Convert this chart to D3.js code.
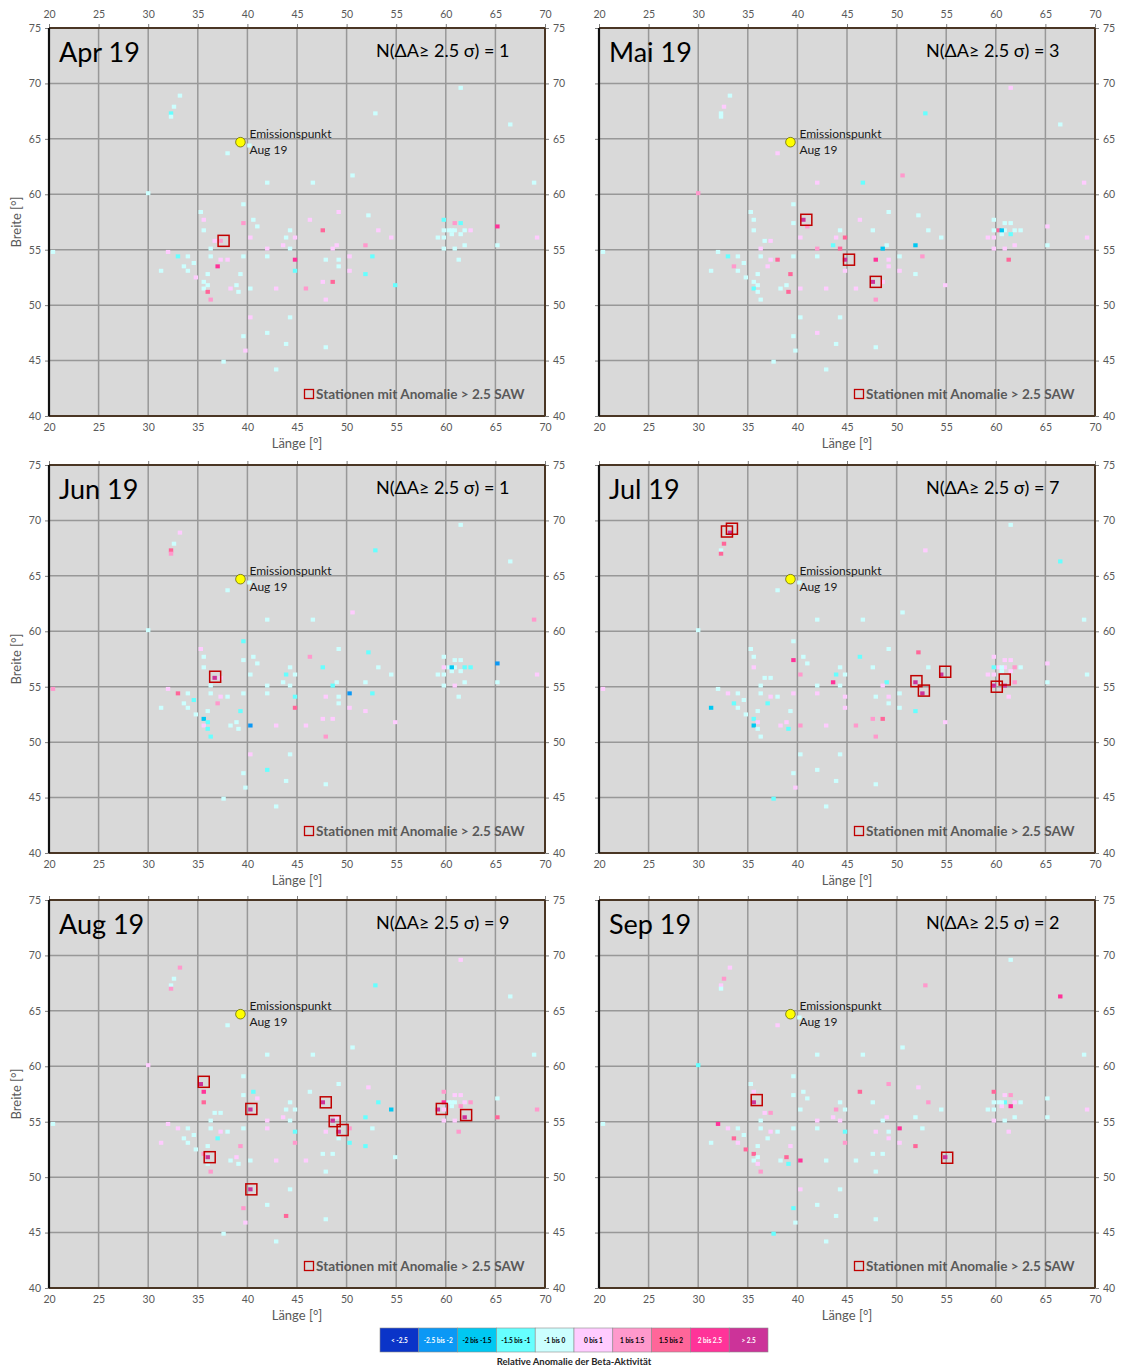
<!DOCTYPE html>
<html>
<head>
<meta charset="utf-8">
<script src="https://cdn.jsdelivr.net/npm/d3@7"></script>
<style>
  body { margin: 0; background: #fff; }
  svg text { font-family: Lato, "Open Sans", "Liberation Sans", sans-serif; }
</style>
</head>
<body>
<svg id="chart" width="1121" height="1369"></svg>
<script>
// ---- Data -------------------------------------------------------------
const months = ["Apr 19", "Mai 19", "Jun 19", "Jul 19", "Aug 19", "Sep 19"];

const lonTicks = [20, 25, 30, 35, 40, 45, 50, 55, 60, 65, 70];
const latTicks = [40, 45, 50, 55, 60, 65, 70, 75];

// Measuring stations (longitude / latitude in degrees)
const stationLon = [
  38.0, 40.2, 42.0, 46.6, 50.6, 68.9, 30.0, 39.6, 35.3, 49.2,
  52.2, 35.6, 40.6, 46.3, 39.6, 59.8, 60.9, 61.5, 65.2, 41.0,
  35.6, 44.3, 47.6, 53.2, 59.8, 60.3, 60.9, 61.9, 62.5, 61.5,
  60.6, 40.3, 43.9, 44.8, 54.5, 59.2, 59.8, 69.2, 36.7, 37.3,
  43.6, 42.0, 36.3, 44.3, 49.0, 48.6, 51.9, 59.8, 60.9, 61.9,
  65.2, 20.4, 32.0, 33.0, 34.0, 36.3, 37.3, 38.0, 39.6, 42.0,
  44.8, 47.9, 49.2, 50.3, 52.6, 61.3, 34.6, 33.6, 37.0, 31.3,
  34.0, 44.8, 49.2, 50.3, 36.0, 39.3, 51.9, 34.8, 35.6, 47.6,
  48.6, 36.0, 38.9, 54.9, 35.6, 38.3, 40.3, 42.9, 45.9, 36.0,
  39.1, 36.3, 47.9, 40.3, 44.3, 42.0, 39.6, 43.9, 39.8, 47.9,
  37.6, 42.9, 33.2, 32.6, 32.3, 32.3, 61.5, 52.9, 66.5, 60.6
];
const stationLat = [
  63.7, 64.4, 61.05, 61.05, 61.7, 61.05, 60.1, 59.1, 58.4, 58.4,
  58.1, 57.7, 57.7, 57.7, 57.4, 57.7, 57.4, 57.4, 57.1, 57.1,
  56.75, 56.75, 56.75, 56.75, 56.75, 56.75, 56.75, 56.75, 56.75, 56.4,
  56.4, 56.1, 56.1, 56.1, 56.1, 56.1, 56.1, 56.1, 55.8, 55.8,
  55.4, 55.1, 55.1, 55.1, 55.4, 55.1, 55.4, 55.1, 55.1, 55.4,
  55.4, 54.8, 54.8, 54.4, 54.4, 54.4, 54.1, 54.1, 54.4, 54.4,
  54.1, 54.1, 54.1, 54.4, 54.4, 54.1, 53.8, 53.5, 53.5, 53.1,
  53.1, 53.1, 53.5, 53.1, 52.8, 52.8, 52.8, 52.5, 52.1, 52.1,
  52.1, 51.8, 51.8, 51.8, 51.5, 51.5, 51.5, 51.5, 51.5, 51.2,
  51.2, 50.5, 50.5, 48.9, 48.9, 47.5, 47.2, 46.5, 45.9, 46.2,
  44.9, 44.2, 68.9, 67.9, 67.3, 67.0, 69.6, 67.3, 66.3, 56.75
];

// Anomaly class per station and month (index into classLabels, -1 = no value)
const classApr = [
  4,4,4,4,4,4,4,4,4,5, 4,5,4,5,6,3,6,3,8,4, 4,4,7,5,4,4,4,4,5,4,
  4,5,4,5,5,4,4,5,5,6, 5,5,4,4,5,5,6,4,4,4, 4,4,5,3,4,4,5,5,4,4,
  8,4,4,5,3,4,4,4,8,4, 4,3,4,5,4,4,3,5,4,5, 7,4,4,3,4,5,4,5,6,7,
  4,6,5,5,4,4,4,4,5,4, 4,4,4,4,3,4,4,4,4,4
];
const classMai = [
  5,-1,5,3,6,5,6,4,4,4, 4,4,9,5,4,4,4,4,5,6, 4,4,4,4,4,7,4,4,4,3,
  4,5,5,7,4,5,5,5,4,5, 3,6,5,7,4,2,2,5,5,5, 4,4,4,3,4,4,5,7,4,4,
  9,8,5,4,6,7,4,6,5,4, 4,5,5,5,4,7,4,4,4,9, 5,4,4,5,3,4,5,5,5,4,
  7,4,6,4,4,5,4,4,4,4, 4,4,4,5,4,4,5,3,4,2
];
const classJun = [
  4,4,4,4,5,6,4,3,5,4, 3,4,4,6,4,4,4,4,1,4, 4,4,3,4,5,4,4,3,3,4,
  4,4,3,4,4,4,4,5,9,5, 4,4,4,4,4,3,4,4,5,4, 4,6,5,7,4,4,5,4,4,4,
  3,5,4,1,3,4,3,4,6,4, 4,7,4,5,4,3,5,4,2,5, 5,3,4,5,5,4,1,5,5,3,
  4,3,6,5,4,3,4,4,4,4, 4,4,5,4,7,6,4,3,4,2
];
const classJul = [
  4,4,4,4,4,4,4,4,4,4, 7,4,4,3,8,5,5,5,5,4, 5,4,4,4,3,5,5,6,4,5,
  4,6,3,4,9,5,5,4,4,4, 8,4,4,4,3,5,9,9,9,6, 4,5,4,5,4,4,5,4,5,5,
  5,4,5,4,9,5,4,3,3,2, 4,5,4,4,4,4,3,4,3,6, 7,5,5,5,2,5,6,5,6,4,
  3,4,6,4,4,4,4,4,5,4, 3,4,9,7,4,7,4,5,3,4
];
const classAug = [
  4,-1,4,4,4,4,5,4,9,4, 5,8,3,4,4,6,5,5,4,5, 7,4,9,3,8,4,4,5,6,6,
  4,9,4,4,2,9,5,6,4,4, 5,5,4,4,5,9,3,5,5,9, 7,4,5,5,4,4,5,4,4,5,
  3,5,9,6,4,6,4,4,3,5, 4,6,4,3,4,6,3,4,6,4, 4,9,5,4,-1,4,4,5,5,4,
  4,6,4,9,4,4,6,7,5,4, 4,4,6,4,4,6,5,3,4,4
];
const classSep = [
  5,4,4,4,4,4,3,4,4,6, 5,5,4,7,4,7,5,6,4,4, 9,4,4,6,4,4,3,5,4,8,
  5,4,6,4,4,4,4,5,5,6, 5,5,4,5,5,4,4,5,4,4, 4,4,8,5,4,4,5,4,4,4,
  3,5,4,8,4,5,4,7,4,4, 5,6,5,5,4,5,7,7,7,4, 4,4,7,9,4,4,8,4,4,5,
  3,6,4,5,4,4,3,4,4,4, 3,4,5,6,5,4,4,6,8,4
];
const monthClasses = [classApr, classMai, classJun, classJul, classAug, classSep];

// Stations with anomaly > 2.5 SAW (marker positions, lon / lat)
const anomalyApr = [[37.6, 55.8]];
const anomalyMai = [[40.9, 57.7], [45.2, 54.1], [47.9, 52.1]];
const anomalyJun = [[36.75, 55.9]];
const anomalyJul = [[32.9, 69.0], [33.4, 69.25], [52.0, 55.5], [52.75, 54.65],
                    [54.9, 56.35], [60.1, 55.0], [60.9, 55.65]];
const anomalyAug = [[35.6, 58.6], [40.4, 56.15], [47.9, 56.75], [48.8, 55.05],
                    [49.6, 54.25], [59.6, 56.15], [62.05, 55.6], [36.2, 51.8], [40.4, 48.9]];
const anomalySep = [[35.9, 56.95], [55.1, 51.75]];
const monthAnomalies = [anomalyApr, anomalyMai, anomalyJun, anomalyJul, anomalyAug, anomalySep];

// Emission point
const emissionLon = 39.3;
const emissionLat = 64.7;

// Colour classes of the relative anomaly
const classLabels = ["< -2.5", "-2.5 bis -2", "-2 bis -1.5", "-1.5 bis -1", "-1 bis 0",
                     "0 bis 1", "1 bis 1.5", "1.5 bis 2", "2 bis 2.5", "> 2.5"];
const classColors = ["#0a34c8", "#0b98f5", "#00c8f2", "#66ffff", "#ccffff",
                     "#ffccff", "#ff99cc", "#ff6699", "#ff3399", "#cc3399"];
const classTextColors = ["#fff", "#fff", "#000", "#000", "#000",
                         "#000", "#000", "#000", "#fff", "#fff"];

// ---- Layout -----------------------------------------------------------
const svg = d3.select("#chart");
const colX = [49, 599];
const rowY = [28, 465, 900];
const plotW = 496, plotH = 388;
const tickGray = "#595959";

const color = d3.scaleOrdinal().domain(d3.range(10)).range(classColors);

months.forEach((month, i) => {
  const col = i % 2, row = Math.floor(i / 2);
  const g = svg.append("g").attr("transform", `translate(${colX[col]},${rowY[row]})`);
  const x = d3.scaleLinear().domain([20, 70]).range([0, plotW]);
  const y = d3.scaleLinear().domain([40, 75]).range([plotH, 0]);

  // plot background
  g.append("rect").attr("width", plotW).attr("height", plotH).attr("fill", "#d9d9d9");

  // grid
  g.append("g").selectAll("line").data(lonTicks.slice(1, -1)).join("line")
    .attr("x1", d => x(d)).attr("x2", d => x(d)).attr("y1", 0).attr("y2", plotH)
    .attr("stroke", "#989898").attr("stroke-width", 1.5);
  g.append("g").selectAll("line").data(latTicks.slice(1, -1)).join("line")
    .attr("y1", d => y(d)).attr("y2", d => y(d)).attr("x1", 0).attr("x2", plotW)
    .attr("stroke", "#989898").attr("stroke-width", 1.5);

  // stations
  const cls = monthClasses[i];
  const pts = stationLon.map((lon, k) => ({ lon, lat: stationLat[k], c: cls[k] }))
                        .filter(p => p.c >= 0);
  g.append("g").selectAll("rect").data(pts).join("rect")
    .attr("x", d => x(d.lon) - 2.2).attr("y", d => y(d.lat) - 2)
    .attr("width", 4.4).attr("height", 4)
    .attr("fill", d => color(d.c));

  // anomaly markers
  g.append("g").selectAll("rect").data(monthAnomalies[i]).join("rect")
    .attr("x", d => x(d[0]) - 5.5).attr("y", d => y(d[1]) - 5.5)
    .attr("width", 11).attr("height", 11)
    .attr("fill", "none").attr("stroke", "#c00000").attr("stroke-width", 1.5);

  // emission point
  g.append("circle").attr("cx", x(emissionLon)).attr("cy", y(emissionLat)).attr("r", 4.8)
    .attr("fill", "#ffff00").attr("stroke", "#6b6b00").attr("stroke-width", 0.8);
  g.append("text").attr("x", x(emissionLon) + 9).attr("y", y(emissionLat) - 4)
    .attr("font-size", 12).attr("fill", "#1a1a1a").text("Emissionspunkt");
  g.append("text").attr("x", x(emissionLon) + 9).attr("y", y(emissionLat) + 12)
    .attr("font-size", 12).attr("fill", "#1a1a1a").text("Aug 19");

  // titles
  g.append("text").attr("x", 10).attr("y", 34).attr("font-size", 27)
    .attr("fill", "#000").text(month);
  g.append("text").attr("x", 327).attr("y", 29).attr("font-size", 18)
    .attr("fill", "#000").text(`N(ΔA≥ 2.5 σ) = ${monthAnomalies[i].length}`);

  // marker legend
  g.append("rect").attr("x", 255.5).attr("y", 361.5).attr("width", 9).attr("height", 9)
    .attr("fill", "none").attr("stroke", "#c00000").attr("stroke-width", 1.3);
  g.append("text").attr("x", 267).attr("y", 371).attr("font-size", 13.6)
    .attr("font-weight", "bold").attr("fill", tickGray)
    .text("Stationen mit Anomalie > 2.5 SAW");

  // axes
  const styleAxis = a => {
    a.select(".domain").remove();
    a.selectAll(".tick line").attr("stroke", "#7f7f7f");
    a.selectAll(".tick text").attr("fill", tickGray).attr("font-size", 10.5)
      .style("font-family", "Lato, 'Open Sans', sans-serif");
  };
  g.append("g").call(d3.axisTop(x).tickValues(lonTicks).tickSize(4).tickPadding(6)
      .tickFormat(row === 0 ? d3.format("d") : () => "")).call(styleAxis);
  g.append("g").attr("transform", `translate(0,${plotH})`)
    .call(d3.axisBottom(x).tickValues(lonTicks).tickSize(0).tickPadding(8)).call(styleAxis);
  g.append("g").call(d3.axisLeft(y).tickValues(latTicks).tickSize(4).tickPadding(4)
      .tickFormat(col === 0 ? d3.format("d") : () => "")).call(styleAxis);
  g.append("g").attr("transform", `translate(${plotW},0)`)
    .call(d3.axisRight(y).tickValues(latTicks).tickSize(4).tickPadding(4)).call(styleAxis);

  // frame
  const frame = "#4a3624";
  g.append("line").attr("x1", 0).attr("x2", plotW).attr("y1", 0).attr("y2", 0)
    .attr("stroke", frame).attr("stroke-width", 2);
  g.append("line").attr("x1", plotW).attr("x2", plotW).attr("y1", 0).attr("y2", plotH)
    .attr("stroke", frame).attr("stroke-width", 2);
  g.append("line").attr("x1", 0).attr("x2", plotW).attr("y1", plotH).attr("y2", plotH)
    .attr("stroke", frame).attr("stroke-width", 2.2);
  g.append("line").attr("x1", 0).attr("x2", 0).attr("y1", 0).attr("y2", plotH)
    .attr("stroke", "#111").attr("stroke-width", 2.2);

  // axis titles
  g.append("text").attr("x", plotW / 2).attr("y", plotH + 32).attr("text-anchor", "middle")
    .attr("font-size", 13).attr("fill", tickGray).text("Länge [°]");
  if (col === 0) {
    g.append("text").attr("transform", `translate(-28,${plotH / 2}) rotate(-90)`)
      .attr("text-anchor", "middle").attr("font-size", 13).attr("fill", tickGray)
      .text("Breite [°]");
  }
});

// ---- Colour legend ----------------------------------------------------
const leg = svg.append("g").attr("transform", "translate(380,1328)");
const legX = d3.scaleBand().domain(d3.range(classLabels.length)).range([0, 388]);
leg.selectAll("rect").data(classLabels).join("rect")
  .attr("x", (d, k) => legX(k)).attr("y", 0)
  .attr("width", legX.bandwidth()).attr("height", 24)
  .attr("fill", (d, k) => classColors[k]).attr("stroke", "#8a8a8a").attr("stroke-width", 0.6);
leg.selectAll("text").data(classLabels).join("text")
  .attr("x", (d, k) => legX(k) + legX.bandwidth() / 2).attr("y", 14.5)
  .attr("text-anchor", "middle").attr("font-size", 6.5).attr("font-weight", "bold")
  .attr("fill", (d, k) => classTextColors[k]).text(d => d);
svg.append("text").attr("x", 574).attr("y", 1365).attr("text-anchor", "middle")
  .attr("font-size", 9.5).attr("font-weight", "bold").attr("fill", "#262626")
  .text("Relative Anomalie der Beta-Aktivität");
</script>
</body>
</html>
